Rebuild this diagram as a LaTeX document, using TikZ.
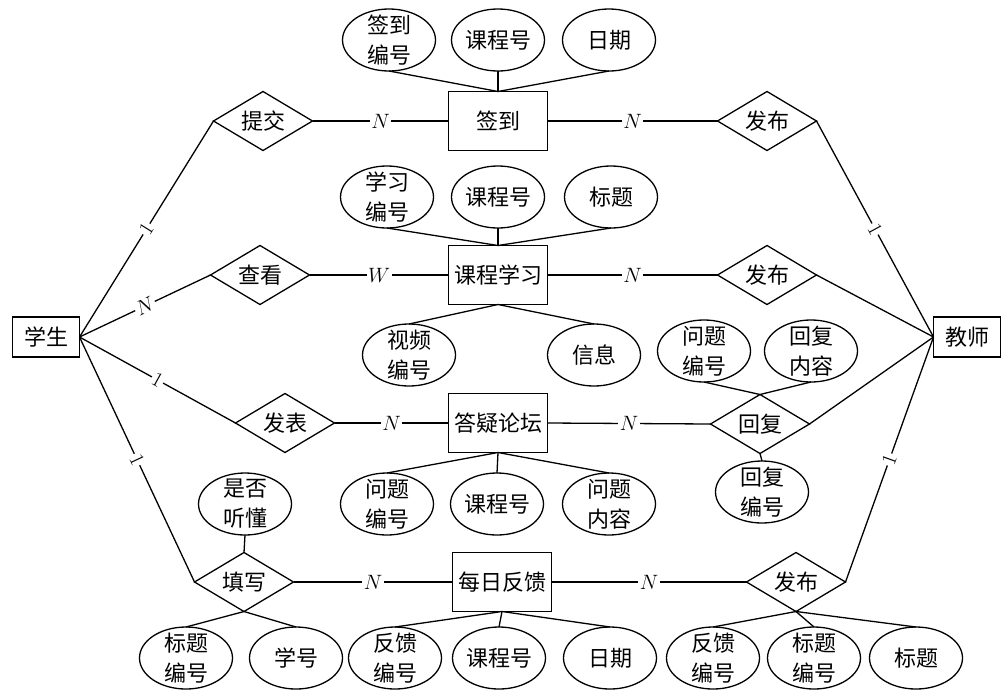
\documentclass[tikz,border=0pt]{standalone}
\usepackage{fontspec}
\usepackage{tikz}
\usetikzlibrary{shapes.geometric}
\newfontfamily\cjk{Noto Sans CJK SC}
\tikzset{
  entity/.style={draw,line width=1.3pt,minimum width=99pt,minimum height=59pt,
              inner sep=0pt,outer sep=0pt,font=\cjk\fontsize{22}{30}\selectfont},
  smallentity/.style={entity,minimum width=67pt,minimum height=40pt},
  relation/.style={draw,diamond,aspect=1.68,line width=1.3pt,minimum width=99pt,
              minimum height=59pt,inner sep=0pt,outer sep=0pt,font=\cjk\fontsize{22}{30}\selectfont},
  attr/.style={draw,ellipse,line width=1.3pt,minimum width=93pt,minimum height=62pt,
              inner sep=-5pt,outer sep=0pt,align=center,font=\cjk\fontsize{22}{30}\selectfont},
  link/.style={line width=1.3pt},
  card/.style={fill=white,inner sep=1.5pt,font=\fontsize{22}{26}\selectfont}
}
\begin{document}
\begin{tikzpicture}[x=1pt,y=-1pt]
  \useasboundingbox (0,0) rectangle (1008,696);
  % entities
  \node[smallentity] (stu) at (46,337) {学生};
  \node[smallentity] (tea) at (967,337) {教师};
  \node[entity] (sign) at (498,121) {签到};
  \node[entity] (study) at (498,275) {课程学习};
  \node[entity] (forum) at (498,423) {答疑论坛};
  \node[entity] (feed) at (502,582) {每日反馈};

  % relations
  \node[relation] (submit) at (263,121) {提交};
  \node[relation] (pubsign) at (767,121) {发布};
  \node[relation] (view) at (260,275) {查看};
  \node[relation] (pubstudy) at (767,275) {发布};
  \node[relation] (post) at (285,423) {发表};
  \node[relation] (reply) at (760,424) {回复};
  \node[relation] (fill) at (244,582) {填写};
  \node[relation] (pubfeed) at (796,582) {发布};

  % attributes
  \node[attr] (signid) at (389,40) {签到\\编号};
  \node[attr] (signcourse) at (498,40) {课程号};
  \node[attr] (signdate) at (609,40) {日期};
  \node[attr] (studyid) at (387,197) {学习\\编号};
  \node[attr] (studycourse) at (498,197) {课程号};
  \node[attr] (studytitle) at (611,197) {标题};
  \node[attr] (videoid) at (409,355) {视频\\编号};
  \node[attr] (studyinfo) at (594,355) {信息};
  \node[attr] (questid) at (387,504) {问题\\编号};
  \node[attr] (forumcourse) at (497,504) {课程号};
  \node[attr] (questtext) at (609,504) {问题\\内容};
  \node[attr] (replyquest) at (704,351) {问题\\编号};
  \node[attr] (replytext) at (811,351) {回复\\内容};
  \node[attr] (replyid) at (762,492) {回复\\编号};
  \node[attr] (understood) at (245,504) {是否\\听懂};
  \node[attr] (filltitle) at (186,658) {标题\\编号};
  \node[attr] (fillstu) at (296,658) {学号};
  \node[attr] (feedid) at (395,658) {反馈\\编号};
  \node[attr] (feedcourse) at (499,658) {课程号};
  \node[attr] (feeddate) at (610,658) {日期};
  \node[attr] (pubfeedid) at (713,658) {反馈\\编号};
  \node[attr] (pubtitleid) at (814,658) {标题\\编号};
  \node[attr] (pubtitle) at (916,658) {标题};

  % student side
  \draw[link] (stu.east) -- node[card,sloped]{$1$} (submit.west);
  \draw[link] (stu.east) -- node[card,sloped]{$N$} (view.west);
  \draw[link] (stu.east) -- node[card,sloped]{$1$} (post.west);
  \draw[link] (stu.east) -- node[card,sloped]{$1$} (fill.west);

  % middle rows
  \draw[link] (submit.east) -- node[card]{$N$} (sign.west);
  \draw[link] (sign.east) -- node[card]{$N$} (pubsign.west);
  \draw[link] (view.east) -- node[card]{$W$} (study.west);
  \draw[link] (study.east) -- node[card]{$N$} (pubstudy.west);
  \draw[link] (post.east) -- node[card]{$N$} (forum.west);
  \draw[link] (forum.east) -- node[card]{$N$} (reply.west);
  \draw[link] (fill.east) -- node[card]{$N$} (feed.west);
  \draw[link] (feed.east) -- node[card]{$N$} (pubfeed.west);

  % teacher side
  \draw[link] (pubsign.east) -- node[card,sloped]{$1$} (tea.west);
  \draw[link] (pubstudy.east) -- (tea.west);
  \draw[link] (reply.east) -- (tea.west);
  \draw[link] (pubfeed.east) -- node[card,sloped]{$1$} (tea.west);

  % attribute links
  \draw[link] (signid.south) -- (sign.north);
  \draw[link] (signcourse.south) -- (sign.north);
  \draw[link] (signdate.south) -- (sign.north);
  \draw[link] (studyid.south) -- (study.north);
  \draw[link] (studycourse.south) -- (study.north);
  \draw[link] (studytitle.south) -- (study.north);
  \draw[link] (study.south) -- (videoid.north);
  \draw[link] (study.south) -- (studyinfo.north);
  \draw[link] (forum.south) -- (questid.north);
  \draw[link] (forum.south) -- (forumcourse.north);
  \draw[link] (forum.south) -- (questtext.north);
  \draw[link] (replyquest.south) -- (reply.north);
  \draw[link] (replytext.south) -- (reply.north);
  \draw[link] (reply.south) -- (replyid.north);
  \draw[link] (understood.south) -- (fill.north);
  \draw[link] (fill.south) -- (filltitle.north);
  \draw[link] (fill.south) -- (fillstu.north);
  \draw[link] (feed.south) -- (feedid.north);
  \draw[link] (feed.south) -- (feedcourse.north);
  \draw[link] (feed.south) -- (feeddate.north);
  \draw[link] (pubfeed.south) -- (pubfeedid.north);
  \draw[link] (pubfeed.south) -- (pubtitleid.north);
  \draw[link] (pubfeed.south) -- (pubtitle.north);
\end{tikzpicture}
\end{document}
